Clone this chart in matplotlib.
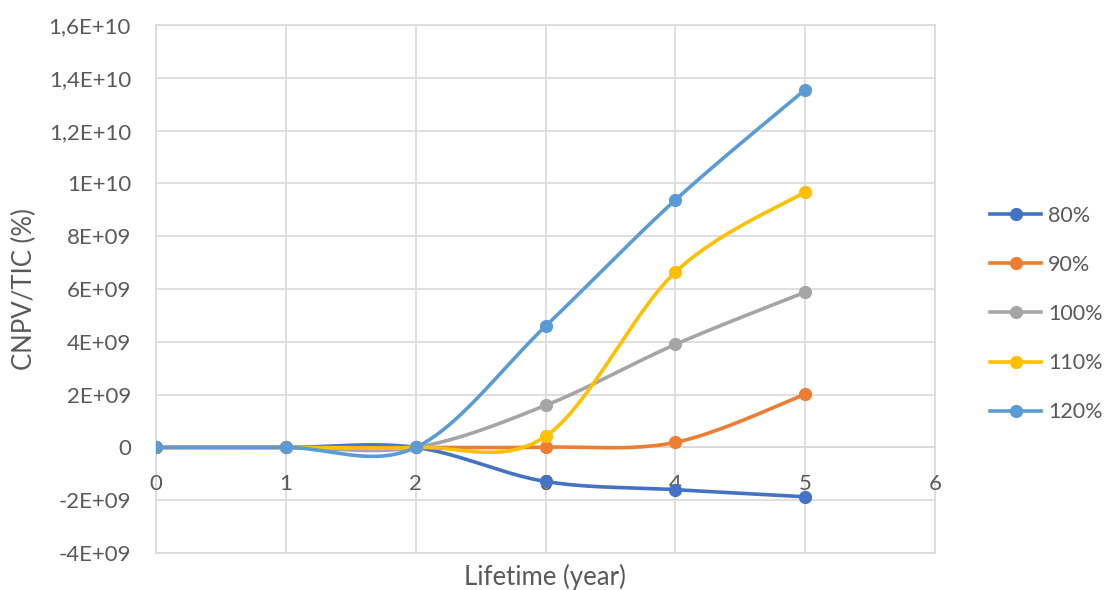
import numpy as np
import matplotlib
matplotlib.use('Agg')
import matplotlib.pyplot as plt
from matplotlib.lines import Line2D

plt.rcParams['font.family'] = ['Lato', 'DejaVu Sans']

years = [0, 1, 2, 3, 4, 5]
labels = ['80%', '90%', '100%', '110%', '120%']
colors = ['#4472C4', '#ED7D31', '#A5A5A5', '#FFC000', '#5B9BD5']
v80 = [0, 0, 0, -1.29e9, -1.60e9, -1.87e9]
v90 = [0, 0, 0, 0.01e9, 0.19e9, 2.01e9]
v100 = [0, 0, 0, 1.59e9, 3.90e9, 5.88e9]
v110 = [0, 0, 0, 0.42e9, 6.64e9, 9.68e9]
v120 = [0, 0, 0, 4.59e9, 9.37e9, 13.55e9]
series = [v80, v90, v100, v110, v120]

yticks = [-4e9, -2e9, 0, 2e9, 4e9, 6e9, 8e9, 1e10, 1.2e10, 1.4e10, 1.6e10]
ytick_labels = ['-4E+09', '-2E+09', '0', '2E+09', '4E+09', '6E+09', '8E+09',
                '1E+10', '1,2E+10', '1,4E+10', '1,6E+10']


def smooth(x, y, n=40):
    # Excel-style smoothed line: cubic bezier, control points from neighbours
    p = np.column_stack([x, y]).astype(float)
    m = len(p)
    d = np.zeros_like(p)
    for i in range(m):
        a = p[max(i - 1, 0)]
        b = p[min(i + 1, m - 1)]
        d[i] = (b - a) / 6
    t = np.linspace(0, 1, n)[:, None]
    out = []
    for i in range(m - 1):
        p0, p3 = p[i], p[i + 1]
        c1, c2 = p0 + d[i], p3 - d[i + 1]
        seg = ((1 - t) ** 3) * p0 + 3 * ((1 - t) ** 2) * t * c1 + 3 * (1 - t) * t ** 2 * c2 + t ** 3 * p3
        out.append(seg if i == 0 else seg[1:])
    out = np.vstack(out)
    return out[:, 0], out[:, 1]


fig = plt.figure(figsize=(11.12, 5.9), dpi=100)
ax = fig.add_axes([156 / 1112, 37 / 590, 779 / 1112, 528 / 590])

grid_c = '#d9d9d9'
text_c = '#595959'

for vals, c in zip(series, colors):
    sx, sy = smooth(years, vals)
    ax.plot(sx, sy, color=c, lw=2.6, solid_capstyle='round', zorder=3)
    ax.plot(years, vals, 'o', color=c, ms=8.5, zorder=4)

ax.set_xlim(0, 6)
ax.set_ylim(-4e9, 1.6e10)
ax.set_xticks(range(7))
ax.set_yticks(yticks)
ax.set_yticklabels(ytick_labels)
ax.grid(True, color=grid_c, lw=1.2, zorder=0)
ax.set_axisbelow(True)

for s in ['top', 'right', 'left']:
    ax.spines[s].set_visible(False)
ax.spines['bottom'].set_position(('data', 0))
ax.spines['bottom'].set_color(grid_c)
ax.spines['bottom'].set_linewidth(1.2)
ax.axhline(-4e9, color=grid_c, lw=1.2, clip_on=False, zorder=0)
ax.axhline(1.6e10, color=grid_c, lw=1.2, clip_on=False, zorder=0)
ax.axvline(0, color=grid_c, lw=1.2, clip_on=False, zorder=0)
ax.axvline(6, color=grid_c, lw=1.2, clip_on=False, zorder=0)

ax.tick_params(axis='both', length=0, labelsize=16, labelcolor=text_c)
ax.tick_params(axis='x', pad=19)
ax.tick_params(axis='y', pad=18)

fig.text(24 / 1112, 1 - 289 / 590, 'CNPV/TIC (%)', fontsize=18.5, color=text_c,
         rotation=90, ha='center', va='center')
fig.text(545 / 1112, 1 - 577 / 590, 'Lifetime (year)', fontsize=18.5, color=text_c,
         ha='center', va='center')

handles = [Line2D([0], [0], color=c, lw=2.6, marker='o', ms=8.5) for c in colors]
fig.legend(handles, labels, loc='center left', bbox_to_anchor=(979 / 1112, 1 - 314 / 590),
           frameon=False, fontsize=15.5, labelcolor=text_c, handlelength=2.4,
           handletextpad=0.3, labelspacing=1.35, borderpad=0)

fig.savefig('out.png', dpi=100)
